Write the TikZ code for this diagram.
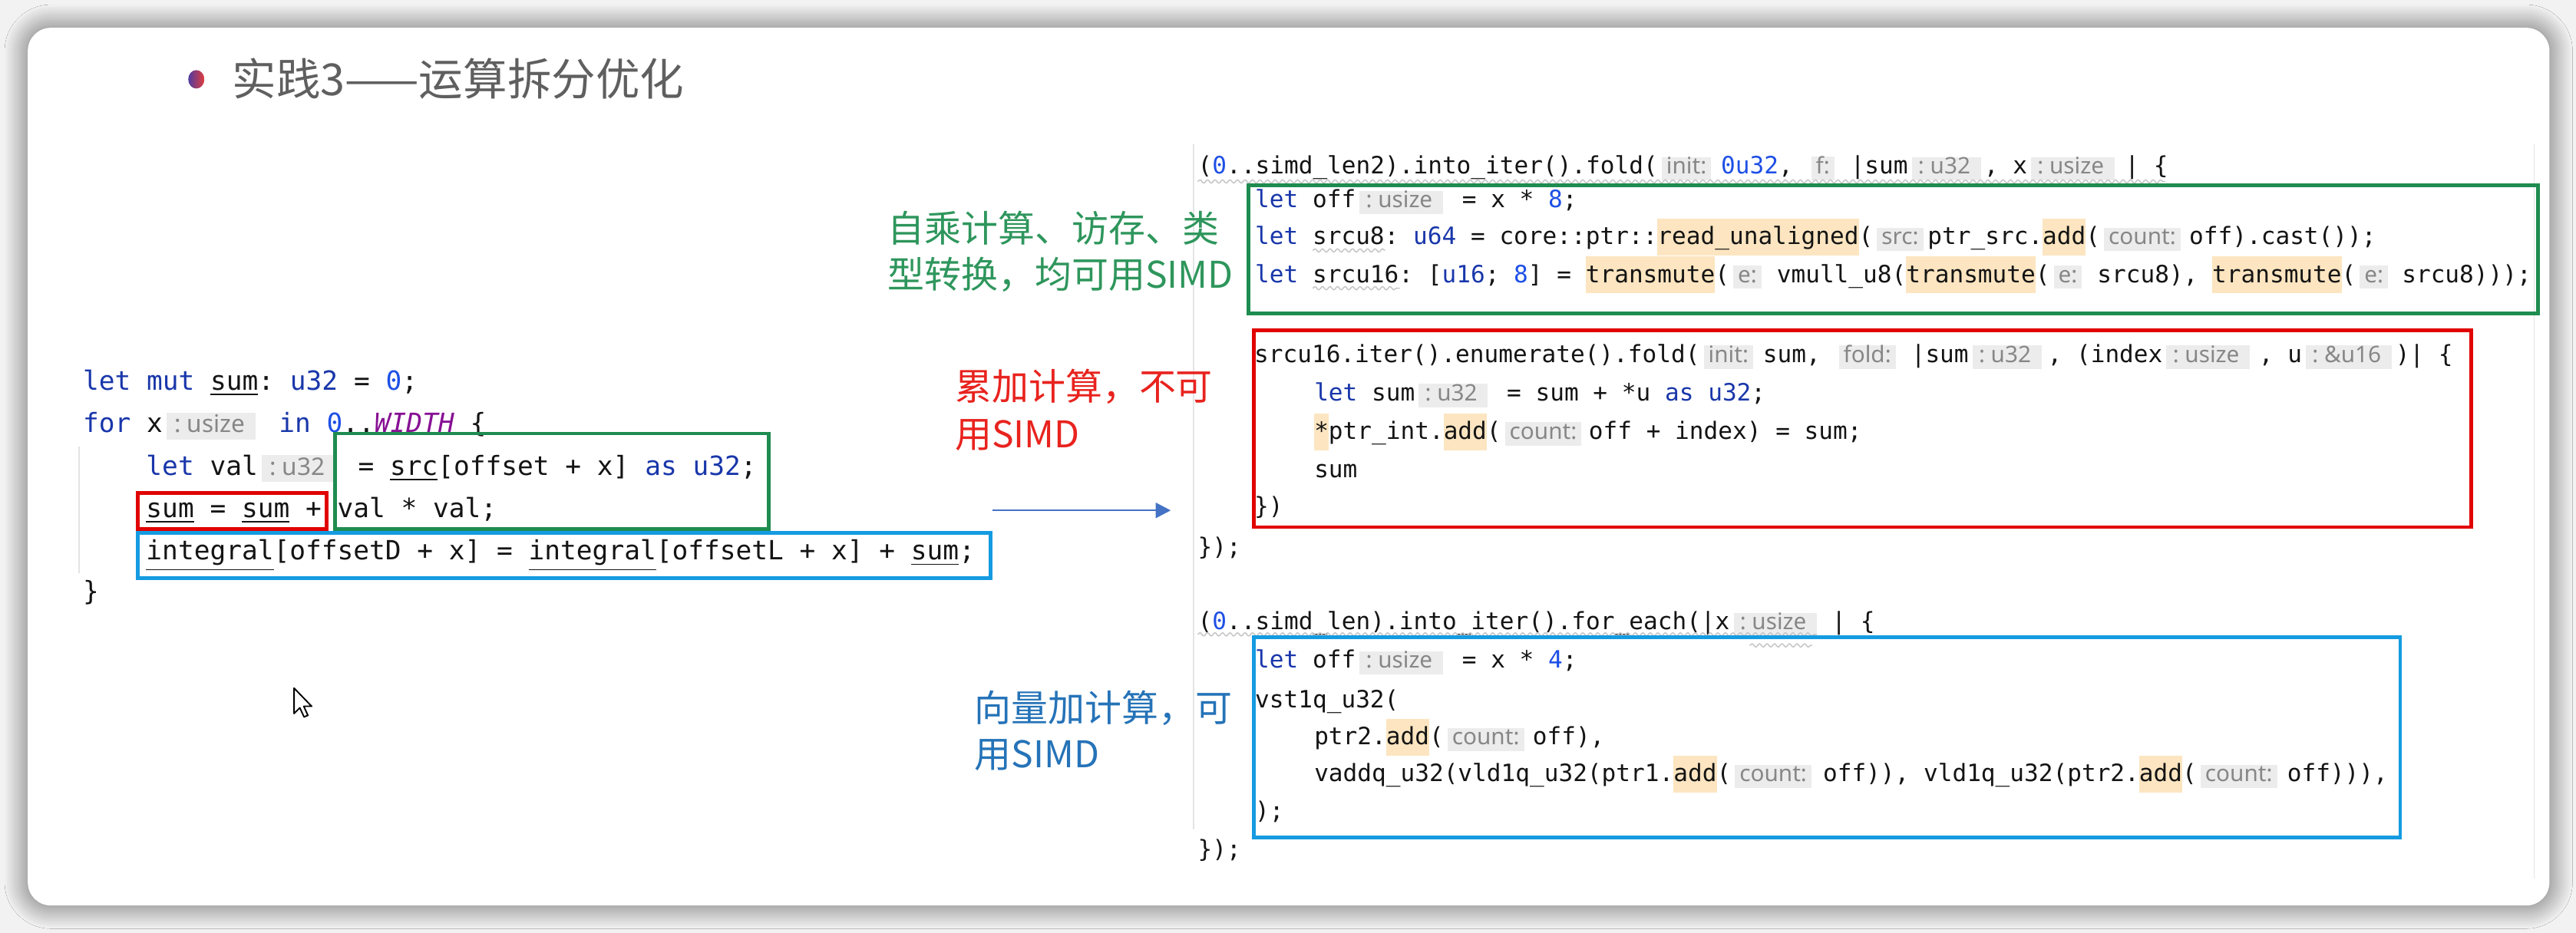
\documentclass[tikz,border=0pt]{standalone}
\usepackage{fontspec}
\usetikzlibrary{arrows.meta,shadows.blur,decorations.pathmorphing}
\newfontfamily\cjk{Noto Sans CJK SC}
\newfontfamily\codefont{DejaVu Sans Mono}
\newfontfamily\hintfont{Noto Sans}
\definecolor{kwc}{RGB}{25,55,170}
\definecolor{numc}{RGB}{30,80,230}
\definecolor{constc}{RGB}{135,16,148}
\definecolor{hintbg}{RGB}{236,236,236}
\definecolor{hintfg}{RGB}{135,135,135}
\definecolor{hlc}{RGB}{252,229,192}
\definecolor{codefg}{RGB}{20,20,20}
\definecolor{boxgreen}{RGB}{30,140,80}
\definecolor{boxred}{RGB}{225,0,0}
\definecolor{boxblue}{RGB}{20,155,225}
\definecolor{txtgreen}{RGB}{46,150,92}
\definecolor{txtred}{RGB}{232,35,30}
\definecolor{txtblue}{RGB}{37,115,184}
\definecolor{arrowc}{RGB}{68,114,196}
\definecolor{titlec}{RGB}{95,95,95}
\definecolor{pagebg}{RGB}{242,242,242}
\definecolor{guide}{RGB}{228,228,228}
\newlength\cw
\def\hintsz{7pt}\def\hintup{6pt}\def\hintdn{1.8pt}\def\hlup{9pt}\def\hldn{3.8pt}\def\tpl{2pt}\def\tpr{3pt}
\newcommand\lcode{\codefont\frenchspacing\fontsize{9.17pt}{11pt}\selectfont\setlength\cw{5.52pt}\def\hintsz{8.4pt}\def\hintup{7pt}\def\hintdn{2.3pt}\def\tpl{2.6pt}\def\tpr{3.6pt}}
\newcommand\rcode{\codefont\frenchspacing\fontsize{8.27pt}{10pt}\selectfont\setlength\cw{4.979pt}\def\hintsz{7.9pt}\def\hintup{5.9pt}\def\hintdn{2.2pt}\def\tpl{2.2pt}\def\tpr{3.6pt}}
\newcommand\kwd[1]{{\color{kwc}#1}}
\newcommand\numt[1]{{\color{numc}#1}}
\newcommand\uln[1]{\underline{#1}}
% inlay hint: span (in code columns), left pad, right pad, text
\newcommand\hintbox[4]{\makebox[#1\cw][l]{\kern0.27\cw{\setlength\fboxsep{0pt}\colorbox{hintbg}{\kern#2\rule[-\hintdn]{0pt}{\dimexpr\hintup+\hintdn\relax}{\hintfont\fontsize{\hintsz}{\hintsz}\selectfont\color{hintfg}#4}\kern#3}}}}
\newcommand\thint[2]{\hintbox{#1}{\tpl}{\tpr}{#2}}
\newcommand\phint[2]{\hintbox{#1}{1.6pt}{1.6pt}{#2}}
\newcommand\hlt[1]{{\setlength\fboxsep{0pt}\colorbox{hlc}{\rule[-\hldn]{0pt}{\dimexpr\hlup+\hldn\relax}#1}}}
\tikzset{
  lc/.style={anchor=base west, inner sep=0pt, outer sep=0pt, font=\lcode, text=codefg},
  rc/.style={anchor=base west, inner sep=0pt, outer sep=0pt, font=\rcode, text=codefg},
  note/.style={anchor=base west, inner sep=0pt, font={\cjk\fontsize{12.75pt}{16pt}\selectfont}},
  codebox/.style={line width=1.3pt},
  squig/.style={draw=gray!45, line width=0.4pt, decorate, decoration={snake, amplitude=0.55pt, segment length=2.6pt}},
  guideline/.style={draw=guide, line width=0.5pt},
}
\begin{document}
\begin{tikzpicture}[x=0.02cm, y=-0.02cm]
\useasboundingbox (0,0) rectangle (1568,568);
\fill[pagebg] (0,0) rectangle (1568,568);
\fill[white, rounded corners=8pt, blur shadow={shadow xshift=0pt, shadow yshift=0pt, shadow blur radius=8pt, shadow opacity=60, shadow blur steps=12}] (16.9,16.9) rectangle (1551.8,551.4);

% title
\shade[left color={rgb,255:red,80;green,60;blue,160}, right color={rgb,255:red,225;green,60;blue,60}] (119.5,48.3) ellipse [x radius=2.8pt, y radius=3.2pt];
\node[anchor=base west, inner sep=0pt, text=titlec, font={\cjk\fontsize{15.3pt}{18pt}\selectfont}] (title) at (141,58) {实践3——运算拆分优化};

% editor guide lines
\draw[guideline] (726.6,88) -- (726.6,505);
\draw[guideline] (1542.5,88) -- (1542.5,535);
\draw[guideline] (48.3,272) -- (48.3,349);

% left code
\node[lc] (l1) at (50.5,237.5) {\kwd{let} \kwd{mut} \uln{sum}: \kwd{u32} = \numt{0};};
\node[lc] (l2) at (50.5,263.5) {\kwd{for} x\thint{7.3}{: usize}\kwd{in} \numt{0}..{\color{constc}\itshape WIDTH} \{};
\node[lc] (l3) at (89,289.4) {\kwd{let} val\thint{6.3}{: u32}= \uln{src}[offset + x] \kwd{as} \kwd{u32};};
\node[lc] (l4) at (89,315) {\uln{sum} = \uln{sum} + val * val;};
\node[lc] (l5) at (89,341) {\uln{integral}[offsetD + x] = \uln{integral}[offsetL + x] + \uln{sum};};
\node[lc] (l6) at (50.5,365.5) {\}};

% right code
\node[rc] (r0) at (729.2,106) {(\numt{0}..simd\_len2).into\_iter().fold(\phint{4.4}{init:}\numt{0u32}, \phint{3.0}{f:}|sum\thint{5.3}{: u32}, x\thint{6.8}{: usize}| \{};
\node[rc] (r1) at (764,126.5) {\kwd{let} off\thint{7.4}{: usize}= x * \numt{8};};
\node[rc] (r2) at (764,149) {\kwd{let} srcu8: \kwd{u64} = core::ptr::\hlt{read\_unaligned}(\phint{3.8}{src:}ptr\_src.\hlt{add}(\phint{6.2}{count:}off).cast());};
\node[rc] (r3) at (764,172) {\kwd{let} srcu16: [\kwd{u16}; \numt{8}] = \hlt{transmute}(\phint{3.3}{e:}vmull\_u8(\hlt{transmute}(\phint{3.3}{e:}srcu8), \hlt{transmute}(\phint{3.2}{e:}srcu8)));};
\node[rc] (r4) at (763.5,220.7) {srcu16.iter().enumerate().fold(\phint{4.4}{init:}sum, \phint{5.3}{fold:}|sum\thint{5.5}{: u32}, (index\thint{6.7}{: usize}, u\thint{6.5}{: \&u16})| \{};
\node[rc] (r5) at (800,244) {\kwd{let} sum\thint{6.4}{: u32}= sum + *u \kwd{as} \kwd{u32};};
\node[rc] (r6) at (800,267.5) {\hlt{*}ptr\_int.\hlt{add}(\phint{6.1}{count:}off + index) = sum;};
\node[rc] (r7) at (800,290.8) {sum};
\node[rc] (r8) at (763.5,313.4) {\})};
\node[rc] (r9) at (729.2,338) {\});};
\node[rc] (r10) at (729.2,383.5) {(\numt{0}..simd\_len).into\_iter().for\_each(|x\thint{7.1}{: usize}| \{};
\node[rc] (r11) at (764,406.9) {\kwd{let} off\thint{7.4}{: usize}= x * \numt{4};};
\node[rc] (r12) at (764,431) {vst1q\_u32(};
\node[rc] (r13) at (800,453.6) {ptr2.\hlt{add}(\phint{6.2}{count:}off),};
\node[rc] (r14) at (800,476) {vaddq\_u32(vld1q\_u32(ptr1.\hlt{add}(\phint{6.4}{count:}off)), vld1q\_u32(ptr2.\hlt{add}(\phint{6.3}{count:}off))),};
\node[rc] (r15) at (764,498.8) {);};
\node[rc] (r16) at (729.2,522) {\});};

% weak-warning squiggles
\draw[squig] (729,110.5) -- (1318,110.5);
\draw[squig] (799,152.5) -- (843,152.5);
\draw[squig] (799,175.5) -- (852,175.5);
\draw[squig] (729,386.3) -- (1106,386.3);
\draw[squig] (1065,393) -- (1103,393);

% annotations
\node[note, text=txtgreen] (g1) at (540,147.5) {自乘计算、访存、类};
\node[note, text=txtgreen] (g2) at (540,175.5) {型转换，均可用SIMD};
\node[note, text=txtred] (ra1) at (581,243.5) {累加计算，不可};
\node[note, text=txtred] (ra2) at (581,272.5) {用SIMD};
\node[note, text=txtblue] (b1) at (593,439.5) {向量加计算，可};
\node[note, text=txtblue] (b2) at (593,467.5) {用SIMD};

% arrow
\coordinate (as) at (604,310.8);
\coordinate (ae) at (712.6,310.8);
\draw[arrowc, line width=0.6pt, -{Triangle[length=5.2pt,width=5.3pt]}] (as) -- (ae);

% highlight boxes
\draw[boxgreen, codebox] (204,264) rectangle (468,322);
\draw[boxred, codebox] (84,300) rectangle (199,322);
\draw[boxblue, codebox] (84,324.5) rectangle (603,352);
\draw[boxgreen, codebox] (760,113) rectangle (1545,191);
\draw[boxred, codebox] (763,201) rectangle (1504,321);
\draw[boxblue, codebox] (763,388) rectangle (1461,510);

% mouse cursor
\draw[black, fill=white, line width=0.5pt, line join=round] (179,419) -- ++(0,15.5) -- ++(3.5,-3.5) -- ++(2.6,5.6) -- ++(2.3,-1) -- ++(-2.5,-5.5) -- ++(4.8,0) -- cycle;
\end{tikzpicture}
\end{document}
